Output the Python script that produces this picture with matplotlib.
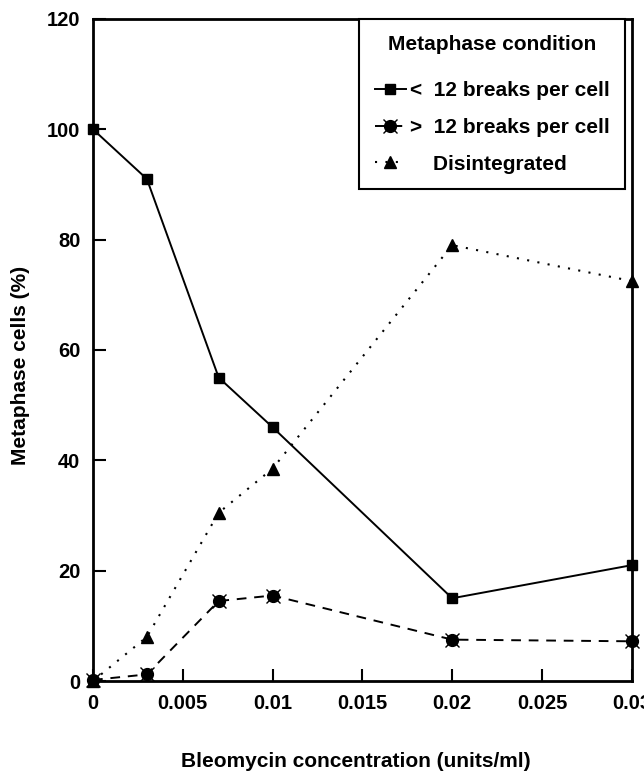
import matplotlib
matplotlib.use("Agg")
import matplotlib.pyplot as plt

plt.rcParams['font.family'] = ['Liberation Sans', 'DejaVu Sans']
plt.rcParams['font.weight'] = 'bold'

# Bleomycin concentration (units/ml)
conc = [0, 0.003, 0.007, 0.01, 0.02, 0.03]

# metaphase cells (%)
low_breaks = [100, 91, 55, 46, 15, 21]
high_breaks = [0.2, 1.2, 14.5, 15.5, 7.5, 7.2]
disintegrated = [0, 8, 30.5, 38.5, 79, 72.5]

fig = plt.figure(figsize=(6.44, 7.71), dpi=100)
ax = fig.add_axes([0.1444, 0.1167, 0.8366, 0.8587])

l1, = ax.plot(conc, low_breaks, color='black', lw=1.4, ls='-',
              marker='s', ms=7, clip_on=False, zorder=3)
l2, = ax.plot(conc, high_breaks, color='black', lw=1.4, ls=(0, (5, 4)),
              marker='o', ms=8.5, clip_on=False, zorder=3)
l2x, = ax.plot(conc, high_breaks, color='black', lw=0, ls='none',
               marker='x', ms=10, mew=1.0, clip_on=False, zorder=4)
l3, = ax.plot(conc, disintegrated, color='black', lw=1.5, ls=(0, (1, 4)),
              marker='^', ms=8, clip_on=False, zorder=3)

ax.set_xlim(0, 0.03)
ax.set_ylim(0, 120)
ax.set_xticks([0, 0.005, 0.01, 0.015, 0.02, 0.025, 0.03])
ax.set_xticklabels(['0', '0.005', '0.01', '0.015', '0.02', '0.025', '0.03'])
ax.set_yticks([0, 20, 40, 60, 80, 100, 120])
ax.tick_params(direction='in', length=9, width=1.5, labelsize=14.5)
ax.tick_params(axis='x', pad=9)
ax.tick_params(axis='y', pad=9)

for s in ax.spines.values():
    s.set_linewidth(2)

ax.set_xlabel('Bleomycin concentration (units/ml)', fontsize=15, fontweight='bold')
ax.xaxis.set_label_coords(0.487, -0.121)
ax.xaxis.label.set_va('center')
ax.set_ylabel('Metaphase cells (%)', fontsize=15, fontweight='bold')
ax.yaxis.set_label_coords(-0.134, 0.476)
ax.yaxis.label.set_va('center')

leg = ax.legend([l1, (l2, l2x), l3],
                ['<  12 breaks per cell', '>  12 breaks per cell', '    Disintegrated'],
                title='Metaphase condition', loc='upper right',
                bbox_to_anchor=(0.988, 1.0), fontsize=15,
                title_fontproperties={'weight': 'bold', 'size': 15},
                handlelength=1.5, handletextpad=0.2, labelspacing=0.85,
                borderpad=0.75, borderaxespad=0, fancybox=False,
                edgecolor='black', framealpha=1)
leg.get_frame().set_linewidth(1.5)
leg._legend_box.sep = 20

fig.savefig('out.png', dpi=100)
